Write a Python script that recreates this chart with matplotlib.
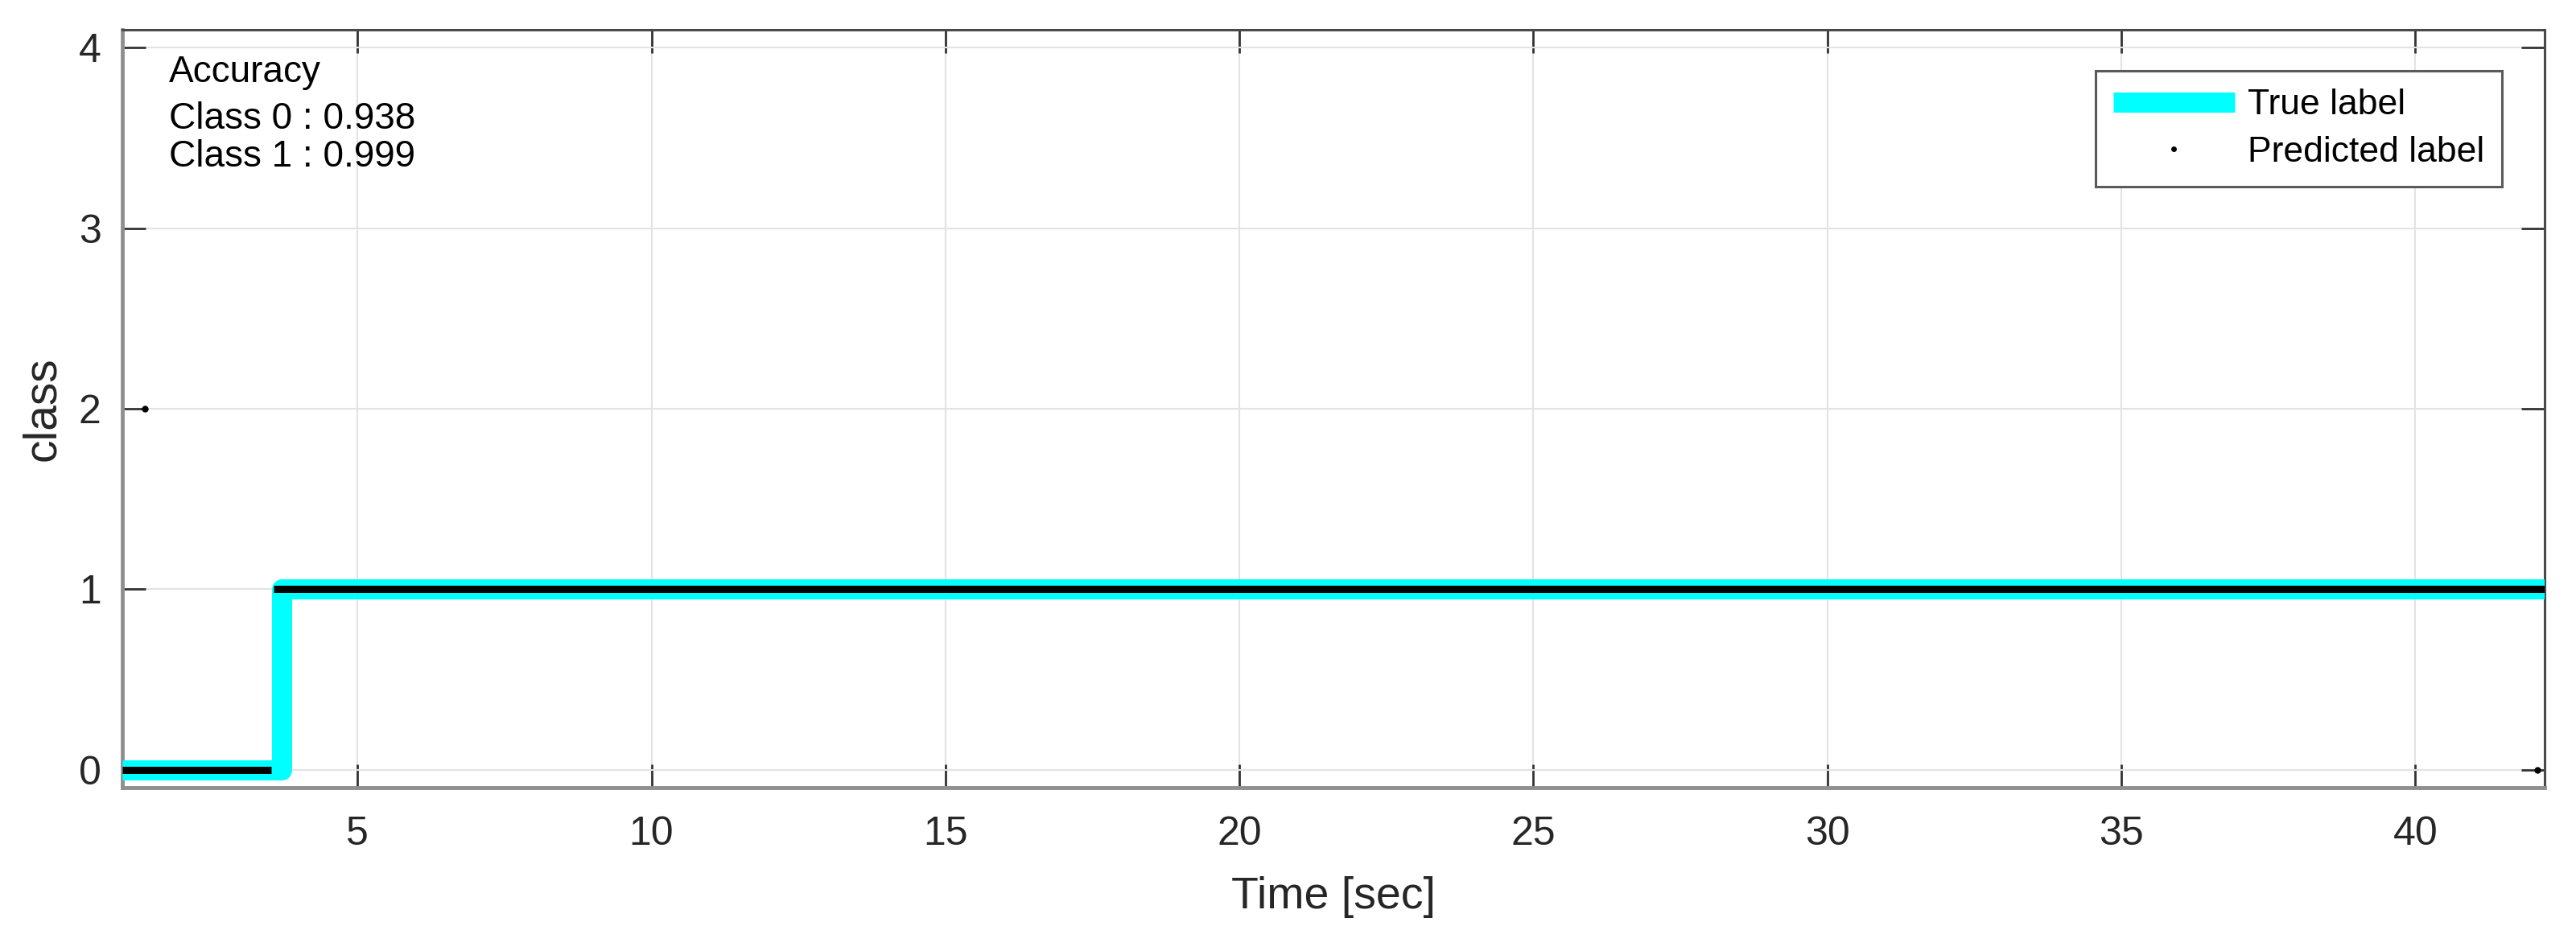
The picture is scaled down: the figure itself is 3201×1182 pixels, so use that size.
import matplotlib
matplotlib.use("Agg")
import matplotlib.pyplot as plt
from matplotlib.lines import Line2D

# ---- data ----
true_time = [1.0, 3.71, 3.71, 42.2]
true_class = [0, 0, 1, 1]

# predicted label: contiguous runs (start, end, class)
pred_run_start = [1.0, 3.57]
pred_run_end = [3.53, 42.2]
pred_run_class = [0, 1]

# isolated predicted points (misclassifications)
pred_out_time = [1.38, 42.07]
pred_out_class = [2, 0]

acc_title = "Accuracy"
acc_lines = ["Class 0 : 0.938", "Class 1 : 0.999"]

x_ticks = [5, 10, 15, 20, 25, 30, 35, 40]
y_ticks = [0, 1, 2, 3, 4]

# ---- style ----
plt.rcParams['font.family'] = ['Liberation Sans', 'DejaVu Sans']

fig = plt.figure(figsize=(32.01, 11.82), dpi=100)
ax = fig.add_axes([152/3201, 1 - 979/1182, (3162-152)/3201, (979-37)/1182])

cyan = '#00FFFF'
true_line, = ax.plot(true_time, true_class, color=cyan, lw=18,
                     solid_joinstyle='round', solid_capstyle='butt',
                     label='True label', zorder=3)
ax.hlines(pred_run_class, pred_run_start, pred_run_end, color='black',
          lw=6.5, zorder=4)
ax.plot(pred_out_time, pred_out_class, 'o', color='black', ms=6, mec='none',
        zorder=5, clip_on=False)

ax.set_xlim(1.0, 42.2)
ax.set_ylim(-0.1, 4.1)
ax.set_xticks(x_ticks)
ax.set_yticks(y_ticks)

ax.grid(True, color='#e3e3e3', lw=1.5, zorder=0)
ax.set_axisbelow(True)

ax.tick_params(axis='both', direction='in', length=21, width=2,
               color='#333333', labelsize=36, labelcolor='#262626',
               top=True, right=True)
ax.tick_params(axis='x', pad=25)
ax.tick_params(axis='y', pad=19)

for side in ['left', 'bottom']:
    ax.spines[side].set_color('#8f8f8f')
    ax.spines[side].set_linewidth(3.5)
for side in ['top', 'right']:
    ax.spines[side].set_color('#4a4a4a')
    ax.spines[side].set_linewidth(2.2)

ax.set_xlabel('Time [sec]', fontsize=40, color='#262626', labelpad=21)
ax.set_ylabel('class', fontsize=41, color='#262626', labelpad=13)

# accuracy annotation
ax.text(0.0193, 0.931, acc_title, transform=ax.transAxes, fontsize=33,
        va='baseline', ha='left', color='black')
ax.text(0.0193, 0.8694, acc_lines[0], transform=ax.transAxes, fontsize=33,
        va='baseline', ha='left', color='black')
ax.text(0.0193, 0.8195, acc_lines[1], transform=ax.transAxes, fontsize=33,
        va='baseline', ha='left', color='black')

pred_handle = Line2D([], [], marker='o', ls='none', color='black', ms=5,
                     mec='none', label='Predicted label')
leg = ax.legend(handles=[true_line, pred_handle], loc='upper right',
                bbox_to_anchor=(0.9824, 0.9459), borderaxespad=0,
                fontsize=32, frameon=True, fancybox=False, framealpha=1,
                edgecolor='#5a5a5a', handlelength=3.4, handletextpad=0.35,
                labelspacing=0.4, borderpad=0.5)
leg.get_frame().set_linewidth(2.2)

fig.savefig('out.png', dpi=100, facecolor='white')
